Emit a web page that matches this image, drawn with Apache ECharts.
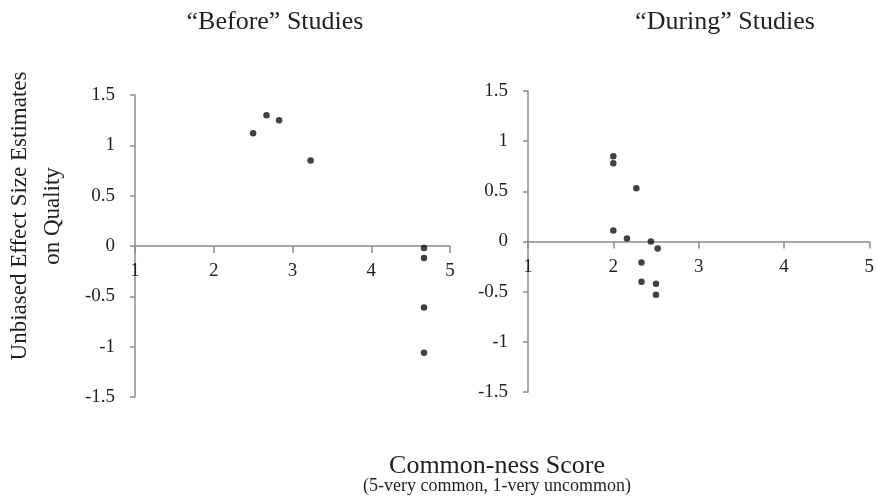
<!DOCTYPE html>
<html>
<head>
<meta charset="utf-8">
<script src="https://cdn.jsdelivr.net/npm/echarts@6/dist/echarts.min.js"></script>
<style>
  html, body { margin: 0; padding: 0; background: #fff; }
  #chart { width: 877px; height: 498px; }
</style>
</head>
<body>
<div id="chart"></div>
<script>
// "Before" studies: common-ness score vs effect size
var beforeX = [2.50, 2.67, 2.83, 3.23, 4.67, 4.67, 4.67, 4.67];
var beforeY = [1.12, 1.30, 1.25, 0.85, -0.02, -0.12, -0.61, -1.06];

// "During" studies
var duringX = [2.0, 2.0, 2.27, 2.0, 2.16, 2.44, 2.52, 2.33, 2.33, 2.50, 2.50];
var duringY = [0.85, 0.78, 0.53, 0.11, 0.03, 0.0, -0.07, -0.21, -0.40, -0.42, -0.53];

var titles = ['\u201cBefore\u201d Studies', '\u201cDuring\u201d Studies'];
var yName = 'Unbiased Effect Size Estimates\non Quality';
var xName = 'Common-ness Score';
var xSub = '(5-very common, 1-very uncommon)';

function pairs(xs, ys) {
    var out = [];
    for (var i = 0; i < xs.length; i++) out.push([xs[i], ys[i]]);
    return out;
}

var FONT = '"Liberation Serif", "Times New Roman", serif';
var TEXT = '#231f20';
var DOT = '#111';
var AXIS = '#8c8c8c';

// x axis sits on y = 0 (half the grid height above the bottom)
function makeX(idx, shift) {
    return {
        gridIndex: idx, type: 'value', min: 1, max: 5, interval: 1,
        position: 'bottom', offset: -shift,
        axisLine: { onZero: false, lineStyle: { color: AXIS, width: 1.5 } },
        axisTick: { show: true, inside: false, length: 7, lineStyle: { color: AXIS, width: 1.5 } },
        axisLabel: { margin: 16, color: TEXT, fontFamily: FONT, fontSize: 19 },
        splitLine: { show: false }
    };
}
function makeY(idx) {
    return {
        gridIndex: idx, type: 'value', min: -1.5, max: 1.5, interval: 0.5,
        axisLine: { show: true, onZero: false, lineStyle: { color: AXIS, width: 1.5 } },
        axisTick: { show: true, length: 5, lineStyle: { color: AXIS, width: 1.5 } },
        axisLabel: { margin: 20, color: TEXT, fontFamily: FONT, fontSize: 19 },
        splitLine: { show: false }
    };
}

var chart = echarts.init(document.getElementById('chart'));
chart.setOption({
    animation: false,
    backgroundColor: '#fff',
    title: [
        { text: titles[0], left: 270, top: 4, textAlign: 'center',
          textStyle: { fontFamily: FONT, fontWeight: 'normal', fontSize: 26, color: TEXT } },
        { text: titles[1], left: 720, top: 4, textAlign: 'center',
          textStyle: { fontFamily: FONT, fontWeight: 'normal', fontSize: 26, color: TEXT } }
    ],
    grid: [
        { left: 135, top: 95, width: 315, height: 302 },
        { left: 528, top: 91, width: 343, height: 301 }
    ],
    xAxis: [makeX(0, 151), makeX(1, 150.5)],
    yAxis: [makeY(0), makeY(1)],
    series: [
        { type: 'scatter', xAxisIndex: 0, yAxisIndex: 0, data: pairs(beforeX, beforeY),
          symbolSize: 6.5, itemStyle: { color: DOT } },
        { type: 'scatter', xAxisIndex: 1, yAxisIndex: 1, data: pairs(duringX, duringY),
          symbolSize: 6.5, itemStyle: { color: DOT } }
    ],
    graphic: [
        { type: 'text', x: 36, y: 216, rotation: Math.PI / 2,
          style: { text: yName, fontFamily: FONT, fontSize: 23, fill: TEXT,
                   align: 'center', verticalAlign: 'middle', lineHeight: 33 } },
        { type: 'text', x: 497, y: 466,
          style: { text: xName, fontFamily: FONT, fontSize: 26, fill: TEXT,
                   align: 'center', verticalAlign: 'middle' } },
        { type: 'text', x: 497, y: 486,
          style: { text: xSub, fontFamily: FONT, fontSize: 18, fill: TEXT,
                   align: 'center', verticalAlign: 'middle' } }
    ]
});
</script>
</body>
</html>
